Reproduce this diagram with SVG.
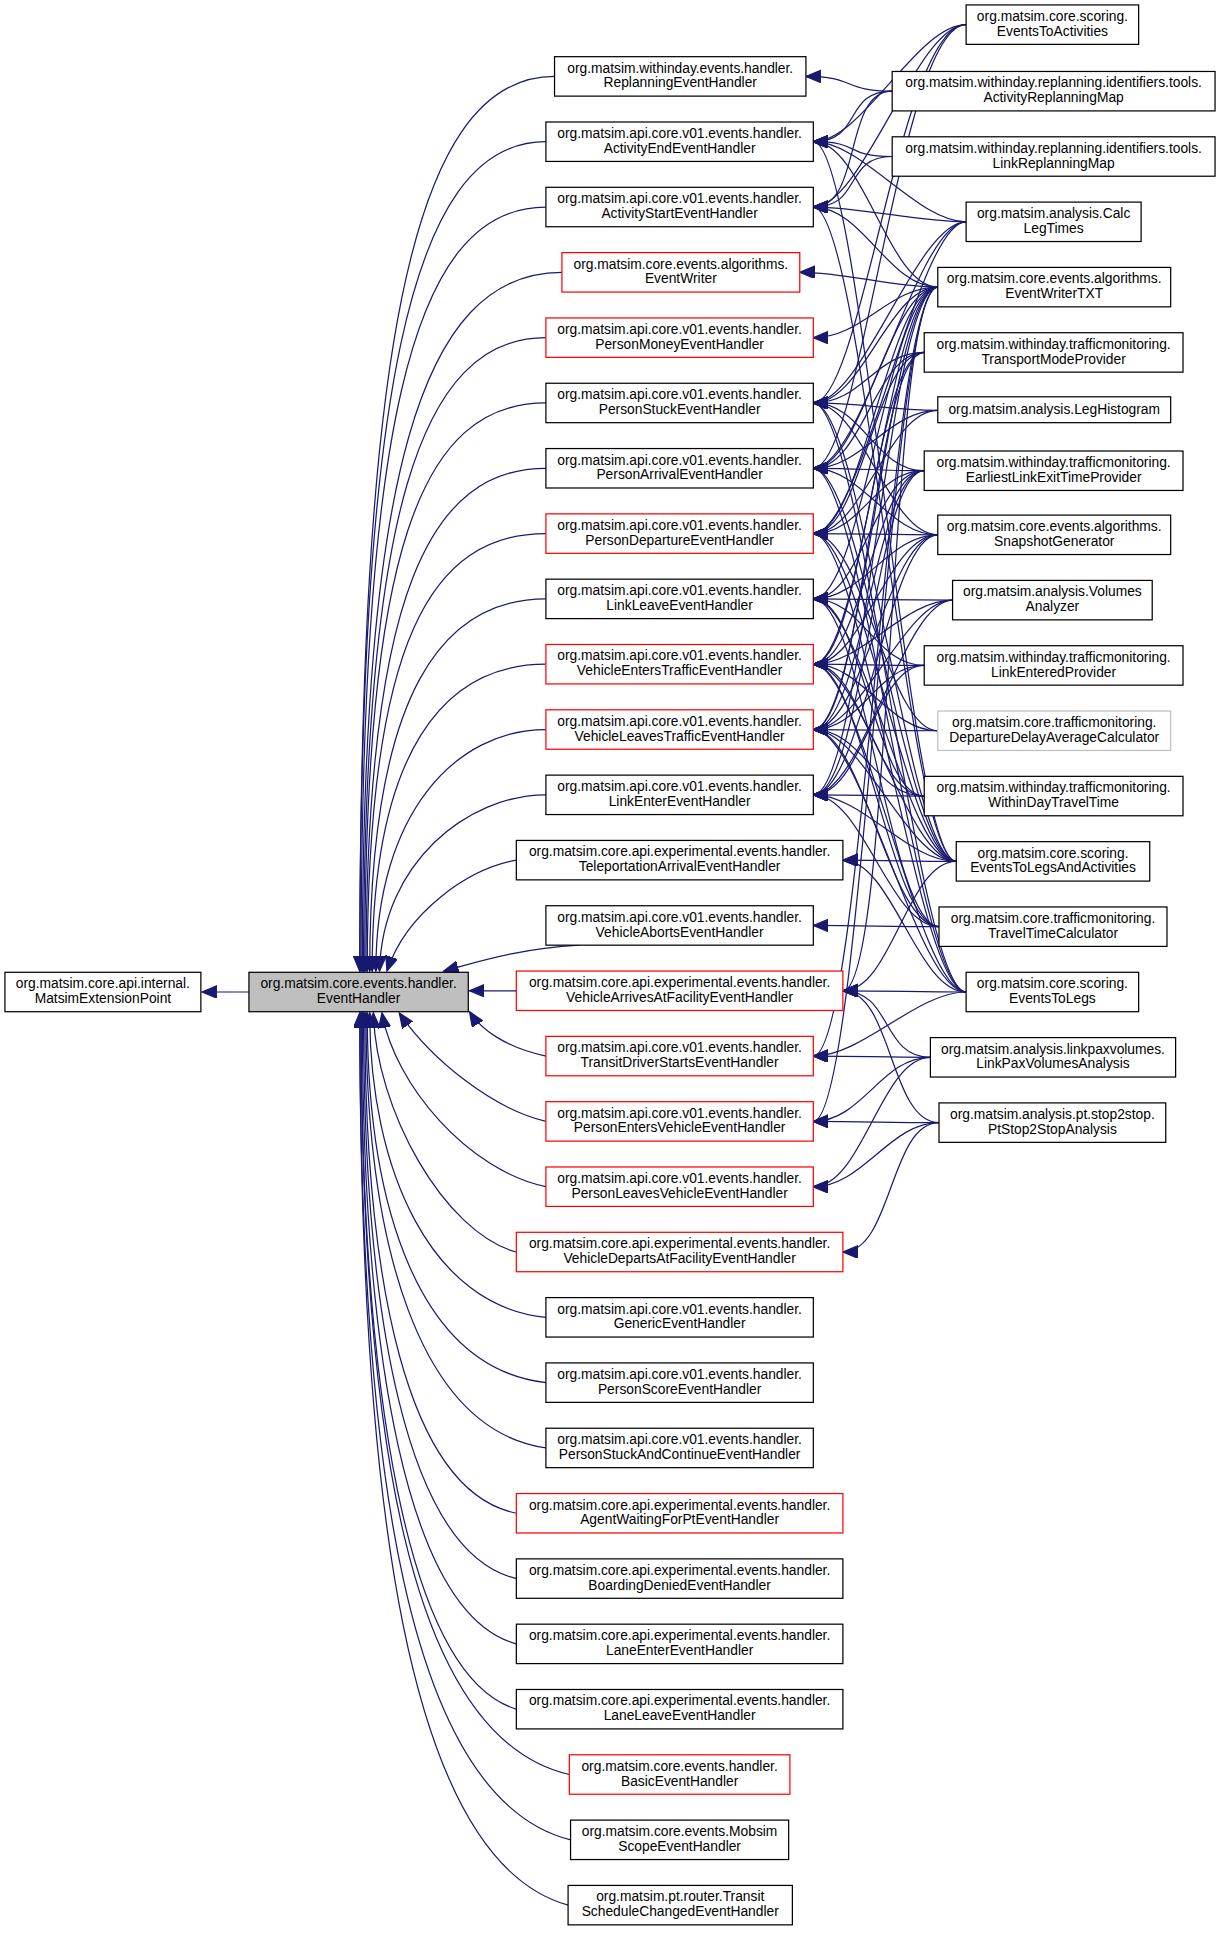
<svg xmlns="http://www.w3.org/2000/svg" width="1220" height="1933" viewBox="0 0 1220 1933">
<style>
.n rect{fill:#fff;stroke:#000;stroke-width:1}
.r rect{stroke:#f00}
.g rect{stroke:#bfbfbf}
text{font-family:"Liberation Sans",Arial,sans-serif;font-size:11.2px;text-anchor:middle;fill:#000}
.e path{fill:none;stroke:#191970;stroke-width:1;marker-end:url(#a)}
</style>
<defs><marker id="a" markerUnits="userSpaceOnUse" markerWidth="14" markerHeight="12" refX="12" refY="5" orient="auto"><path d="M0,0 L12,5 L0,10 z" fill="#191970" stroke="#191970"/></marker></defs>
<rect width="1220" height="1933" fill="#fff"/>
<g transform="scale(1.2323)">
<g id="edges" class="e">
<path d="M202,805 L164,805"/>
<path d="M450,62 C330,62 292,300 292,788"/>
<path d="M443,115 C330,115 292,330 292,788"/>
<path d="M443,168 C330,168 293,360 293,788"/>
<path d="M456,221 C340,221 294,390 294,788"/>
<path d="M443,274 C340,274 295,420 295,788"/>
<path d="M443,327 C340,327 296,450 296,788"/>
<path d="M443,380 C350,380 297,480 297,788"/>
<path d="M443,433 C350,433 298,520 298,788"/>
<path d="M443,486 C360,486 300,560 300,788"/>
<path d="M443,539 C360,539 302,610 302,788"/>
<path d="M443,592 C370,592 305,660 305,788"/>
<path d="M443,645 C380,645 310,700 308,788"/>
<path d="M419,698 C380,705 330,740 314,788"/>
<path d="M470,767 C420,770 390,780 360,788"/>
<path d="M419,804 L381,804"/>
<path d="M443,857 C410,850 390,835 381,821"/>
<path d="M443,910 C400,900 350,860 324,822"/>
<path d="M443,963 C380,950 320,880 310,822"/>
<path d="M419,1016 C360,1000 305,900 303,822"/>
<path d="M443,1069 C350,1060 300,950 300,822"/>
<path d="M443,1122 C340,1110 298,980 298,822"/>
<path d="M443,1175 C340,1160 297,1010 297,822"/>
<path d="M419,1228 C330,1210 296,1040 296,822"/>
<path d="M419,1281 C330,1260 295,1070 295,822"/>
<path d="M419,1334 C330,1310 294,1100 294,822"/>
<path d="M419,1387 C330,1360 293,1130 293,822"/>
<path d="M462,1440 C330,1410 293,1160 293,822"/>
<path d="M463,1493 C330,1460 292,1190 292,822"/>
<path d="M461,1546 C330,1510 292,1220 292,822"/>
<path d="M784,20 C744,20 700,115 660,115"/>
<path d="M784,20 C744,20 700,168 660,168"/>
<path d="M784,20 C730,20 700,327 660,327"/>
<path d="M784,20 C730,20 700,380 660,380"/>
<path d="M724,74 C684,74 694,62 654,62"/>
<path d="M724,74 C684,74 700,115 660,115"/>
<path d="M724,74 C684,74 700,168 660,168"/>
<path d="M724,127 C684,127 700,115 660,115"/>
<path d="M724,127 C684,127 700,168 660,168"/>
<path d="M784,180 C744,180 700,115 660,115"/>
<path d="M784,180 C744,180 700,168 660,168"/>
<path d="M784,180 C744,180 700,327 660,327"/>
<path d="M784,180 C744,180 700,380 660,380"/>
<path d="M784,180 C744,180 700,433 660,433"/>
<path d="M761,233 C721,233 689,221 649,221"/>
<path d="M761,233 C721,233 700,115 660,115"/>
<path d="M761,233 C721,233 700,168 660,168"/>
<path d="M761,233 C721,233 700,274 660,274"/>
<path d="M761,233 C721,233 700,327 660,327"/>
<path d="M761,233 C721,233 700,380 660,380"/>
<path d="M761,233 C721,233 700,433 660,433"/>
<path d="M761,233 C721,233 700,486 660,486"/>
<path d="M761,233 C721,233 700,539 660,539"/>
<path d="M761,233 C721,233 700,592 660,592"/>
<path d="M761,233 C721,233 700,645 660,645"/>
<path d="M761,233 C721,233 724,804 684,804"/>
<path d="M761,233 C721,233 700,857 660,857"/>
<path d="M761,233 C721,233 700,910 660,910"/>
<path d="M750,286 C710,286 700,327 660,327"/>
<path d="M750,286 C710,286 700,380 660,380"/>
<path d="M750,286 C710,286 700,433 660,433"/>
<path d="M750,286 C710,286 700,539 660,539"/>
<path d="M750,286 C710,286 700,592 660,592"/>
<path d="M761,333 C721,333 700,327 660,327"/>
<path d="M761,333 C721,333 700,380 660,380"/>
<path d="M761,333 C721,333 700,433 660,433"/>
<path d="M750,382 C710,382 700,327 660,327"/>
<path d="M750,382 C710,382 700,380 660,380"/>
<path d="M750,382 C710,382 700,433 660,433"/>
<path d="M750,382 C710,382 700,486 660,486"/>
<path d="M750,382 C710,382 700,539 660,539"/>
<path d="M750,382 C710,382 700,592 660,592"/>
<path d="M750,382 C710,382 700,645 660,645"/>
<path d="M761,434 C721,434 700,327 660,327"/>
<path d="M761,434 C721,434 700,380 660,380"/>
<path d="M761,434 C721,434 700,433 660,433"/>
<path d="M761,434 C721,434 700,486 660,486"/>
<path d="M761,434 C721,434 700,539 660,539"/>
<path d="M761,434 C721,434 700,592 660,592"/>
<path d="M761,434 C721,434 700,645 660,645"/>
<path d="M773,487 C733,487 700,486 660,486"/>
<path d="M773,487 C733,487 700,539 660,539"/>
<path d="M773,487 C733,487 700,592 660,592"/>
<path d="M773,487 C733,487 700,645 660,645"/>
<path d="M750,540 C710,540 700,486 660,486"/>
<path d="M750,540 C710,540 700,539 660,539"/>
<path d="M750,540 C710,540 700,592 660,592"/>
<path d="M750,540 C710,540 700,645 660,645"/>
<path d="M761,593 C721,593 700,433 660,433"/>
<path d="M761,593 C721,593 700,539 660,539"/>
<path d="M761,593 C721,593 700,592 660,592"/>
<path d="M750,646 C710,646 700,486 660,486"/>
<path d="M750,646 C710,646 700,539 660,539"/>
<path d="M750,646 C710,646 700,592 660,592"/>
<path d="M750,646 C710,646 700,645 660,645"/>
<path d="M776,699 C736,699 700,115 660,115"/>
<path d="M776,699 C736,699 700,168 660,168"/>
<path d="M776,699 C736,699 700,327 660,327"/>
<path d="M776,699 C736,699 700,380 660,380"/>
<path d="M776,699 C736,699 700,433 660,433"/>
<path d="M776,699 C736,699 700,486 660,486"/>
<path d="M776,699 C736,699 700,539 660,539"/>
<path d="M776,699 C736,699 700,592 660,592"/>
<path d="M776,699 C736,699 700,645 660,645"/>
<path d="M776,699 C736,699 724,698 684,698"/>
<path d="M776,699 C736,699 724,804 684,804"/>
<path d="M762,752 C722,752 700,486 660,486"/>
<path d="M762,752 C722,752 700,539 660,539"/>
<path d="M762,752 C722,752 700,592 660,592"/>
<path d="M762,752 C722,752 700,645 660,645"/>
<path d="M762,752 C722,752 700,751 660,751"/>
<path d="M784,805 C744,805 700,327 660,327"/>
<path d="M784,805 C744,805 700,380 660,380"/>
<path d="M784,805 C744,805 700,433 660,433"/>
<path d="M784,805 C744,805 700,539 660,539"/>
<path d="M784,805 C744,805 700,592 660,592"/>
<path d="M784,805 C744,805 724,698 684,698"/>
<path d="M784,805 C744,805 724,804 684,804"/>
<path d="M784,805 C744,805 700,857 660,857"/>
<path d="M755,858 C715,858 724,804 684,804"/>
<path d="M755,858 C715,858 700,857 660,857"/>
<path d="M755,858 C715,858 700,910 660,910"/>
<path d="M755,858 C715,858 700,963 660,963"/>
<path d="M762,911 C722,911 724,804 684,804"/>
<path d="M762,911 C722,911 700,910 660,910"/>
<path d="M762,911 C722,911 700,963 660,963"/>
<path d="M762,911 C722,911 724,1016 684,1016"/>
</g>
<g id="MatsimExtensionPoint" class="n"><rect x="4" y="789" width="159" height="32"/><text x="83.5" y="802">org.matsim.core.api.internal.</text><text x="83.5" y="814">MatsimExtensionPoint</text></g>
<g id="EventHandler" class="n"><rect x="202" y="789" width="178" height="32" style="fill:#bfbfbf"/><text x="291" y="802">org.matsim.core.events.handler.</text><text x="291" y="814">EventHandler</text></g>
<g id="m1" class="n"><rect x="450" y="46" width="204" height="32"/><text x="552" y="59">org.matsim.withinday.events.handler.</text><text x="552" y="71">ReplanningEventHandler</text></g>
<g id="m2" class="n"><rect x="443" y="99" width="217" height="32"/><text x="551.5" y="112">org.matsim.api.core.v01.events.handler.</text><text x="551.5" y="124">ActivityEndEventHandler</text></g>
<g id="m3" class="n"><rect x="443" y="152" width="217" height="32"/><text x="551.5" y="165">org.matsim.api.core.v01.events.handler.</text><text x="551.5" y="177">ActivityStartEventHandler</text></g>
<g id="m4" class="n r"><rect x="456" y="205" width="193" height="32"/><text x="552.5" y="218">org.matsim.core.events.algorithms.</text><text x="552.5" y="230">EventWriter</text></g>
<g id="m5" class="n r"><rect x="443" y="258" width="217" height="32"/><text x="551.5" y="271">org.matsim.api.core.v01.events.handler.</text><text x="551.5" y="283">PersonMoneyEventHandler</text></g>
<g id="m6" class="n"><rect x="443" y="311" width="217" height="32"/><text x="551.5" y="324">org.matsim.api.core.v01.events.handler.</text><text x="551.5" y="336">PersonStuckEventHandler</text></g>
<g id="m7" class="n"><rect x="443" y="364" width="217" height="32"/><text x="551.5" y="377">org.matsim.api.core.v01.events.handler.</text><text x="551.5" y="389">PersonArrivalEventHandler</text></g>
<g id="m8" class="n r"><rect x="443" y="417" width="217" height="32"/><text x="551.5" y="430">org.matsim.api.core.v01.events.handler.</text><text x="551.5" y="442">PersonDepartureEventHandler</text></g>
<g id="m9" class="n"><rect x="443" y="470" width="217" height="32"/><text x="551.5" y="483">org.matsim.api.core.v01.events.handler.</text><text x="551.5" y="495">LinkLeaveEventHandler</text></g>
<g id="m10" class="n r"><rect x="443" y="523" width="217" height="32"/><text x="551.5" y="536">org.matsim.api.core.v01.events.handler.</text><text x="551.5" y="548">VehicleEntersTrafficEventHandler</text></g>
<g id="m11" class="n r"><rect x="443" y="576" width="217" height="32"/><text x="551.5" y="589">org.matsim.api.core.v01.events.handler.</text><text x="551.5" y="601">VehicleLeavesTrafficEventHandler</text></g>
<g id="m12" class="n"><rect x="443" y="629" width="217" height="32"/><text x="551.5" y="642">org.matsim.api.core.v01.events.handler.</text><text x="551.5" y="654">LinkEnterEventHandler</text></g>
<g id="m13" class="n"><rect x="419" y="682" width="265" height="32"/><text x="551.5" y="695">org.matsim.core.api.experimental.events.handler.</text><text x="551.5" y="707">TeleportationArrivalEventHandler</text></g>
<g id="m14" class="n"><rect x="443" y="735" width="217" height="32"/><text x="551.5" y="748">org.matsim.api.core.v01.events.handler.</text><text x="551.5" y="760">VehicleAbortsEventHandler</text></g>
<g id="m15" class="n r"><rect x="419" y="788" width="265" height="32"/><text x="551.5" y="801">org.matsim.core.api.experimental.events.handler.</text><text x="551.5" y="813">VehicleArrivesAtFacilityEventHandler</text></g>
<g id="m16" class="n r"><rect x="443" y="841" width="217" height="32"/><text x="551.5" y="854">org.matsim.api.core.v01.events.handler.</text><text x="551.5" y="866">TransitDriverStartsEventHandler</text></g>
<g id="m17" class="n r"><rect x="443" y="894" width="217" height="32"/><text x="551.5" y="907">org.matsim.api.core.v01.events.handler.</text><text x="551.5" y="919">PersonEntersVehicleEventHandler</text></g>
<g id="m18" class="n r"><rect x="443" y="947" width="217" height="32"/><text x="551.5" y="960">org.matsim.api.core.v01.events.handler.</text><text x="551.5" y="972">PersonLeavesVehicleEventHandler</text></g>
<g id="m19" class="n r"><rect x="419" y="1000" width="265" height="32"/><text x="551.5" y="1013">org.matsim.core.api.experimental.events.handler.</text><text x="551.5" y="1025">VehicleDepartsAtFacilityEventHandler</text></g>
<g id="m20" class="n"><rect x="443" y="1053" width="217" height="32"/><text x="551.5" y="1066">org.matsim.api.core.v01.events.handler.</text><text x="551.5" y="1078">GenericEventHandler</text></g>
<g id="m21" class="n"><rect x="443" y="1106" width="217" height="32"/><text x="551.5" y="1119">org.matsim.api.core.v01.events.handler.</text><text x="551.5" y="1131">PersonScoreEventHandler</text></g>
<g id="m22" class="n"><rect x="443" y="1159" width="217" height="32"/><text x="551.5" y="1172">org.matsim.api.core.v01.events.handler.</text><text x="551.5" y="1184">PersonStuckAndContinueEventHandler</text></g>
<g id="m23" class="n r"><rect x="419" y="1212" width="265" height="32"/><text x="551.5" y="1225">org.matsim.core.api.experimental.events.handler.</text><text x="551.5" y="1237">AgentWaitingForPtEventHandler</text></g>
<g id="m24" class="n"><rect x="419" y="1265" width="265" height="32"/><text x="551.5" y="1278">org.matsim.core.api.experimental.events.handler.</text><text x="551.5" y="1290">BoardingDeniedEventHandler</text></g>
<g id="m25" class="n"><rect x="419" y="1318" width="265" height="32"/><text x="551.5" y="1331">org.matsim.core.api.experimental.events.handler.</text><text x="551.5" y="1343">LaneEnterEventHandler</text></g>
<g id="m26" class="n"><rect x="419" y="1371" width="265" height="32"/><text x="551.5" y="1384">org.matsim.core.api.experimental.events.handler.</text><text x="551.5" y="1396">LaneLeaveEventHandler</text></g>
<g id="m27" class="n r"><rect x="462" y="1424" width="179" height="32"/><text x="551.5" y="1437">org.matsim.core.events.handler.</text><text x="551.5" y="1449">BasicEventHandler</text></g>
<g id="m28" class="n"><rect x="463" y="1477" width="177" height="32"/><text x="551.5" y="1490">org.matsim.core.events.Mobsim</text><text x="551.5" y="1502">ScopeEventHandler</text></g>
<g id="m29" class="n"><rect x="461" y="1530" width="182" height="32"/><text x="552" y="1543">org.matsim.pt.router.Transit</text><text x="552" y="1555">ScheduleChangedEventHandler</text></g>
<g id="r1" class="n"><rect x="784" y="4" width="140" height="32"/><text x="854" y="17">org.matsim.core.scoring.</text><text x="854" y="29">EventsToActivities</text></g>
<g id="r2" class="n"><rect x="724" y="58" width="262" height="32"/><text x="855" y="71">org.matsim.withinday.replanning.identifiers.tools.</text><text x="855" y="83">ActivityReplanningMap</text></g>
<g id="r3" class="n"><rect x="724" y="111" width="262" height="32"/><text x="855" y="124">org.matsim.withinday.replanning.identifiers.tools.</text><text x="855" y="136">LinkReplanningMap</text></g>
<g id="r4" class="n"><rect x="784" y="164" width="142" height="32"/><text x="855" y="177">org.matsim.analysis.Calc</text><text x="855" y="189">LegTimes</text></g>
<g id="r5" class="n"><rect x="761" y="217" width="189" height="32"/><text x="855.5" y="230">org.matsim.core.events.algorithms.</text><text x="855.5" y="242">EventWriterTXT</text></g>
<g id="r6" class="n"><rect x="750" y="270" width="210" height="32"/><text x="855" y="283">org.matsim.withinday.trafficmonitoring.</text><text x="855" y="295">TransportModeProvider</text></g>
<g id="r7" class="n"><rect x="761" y="322" width="189" height="21"/><text x="855.5" y="336">org.matsim.analysis.LegHistogram</text></g>
<g id="r8" class="n"><rect x="750" y="366" width="210" height="32"/><text x="855" y="379">org.matsim.withinday.trafficmonitoring.</text><text x="855" y="391">EarliestLinkExitTimeProvider</text></g>
<g id="r9" class="n"><rect x="761" y="418" width="189" height="32"/><text x="855.5" y="431">org.matsim.core.events.algorithms.</text><text x="855.5" y="443">SnapshotGenerator</text></g>
<g id="r10" class="n"><rect x="773" y="471" width="162" height="32"/><text x="854" y="484">org.matsim.analysis.Volumes</text><text x="854" y="496">Analyzer</text></g>
<g id="r11" class="n"><rect x="750" y="524" width="210" height="32"/><text x="855" y="537">org.matsim.withinday.trafficmonitoring.</text><text x="855" y="549">LinkEnteredProvider</text></g>
<g id="r12" class="n g"><rect x="761" y="577" width="189" height="32"/><text x="855.5" y="590">org.matsim.core.trafficmonitoring.</text><text x="855.5" y="602">DepartureDelayAverageCalculator</text></g>
<g id="r13" class="n"><rect x="750" y="630" width="210" height="32"/><text x="855" y="643">org.matsim.withinday.trafficmonitoring.</text><text x="855" y="655">WithinDayTravelTime</text></g>
<g id="r14" class="n"><rect x="776" y="683" width="157" height="32"/><text x="854.5" y="696">org.matsim.core.scoring.</text><text x="854.5" y="708">EventsToLegsAndActivities</text></g>
<g id="r15" class="n"><rect x="762" y="736" width="185" height="32"/><text x="854.5" y="749">org.matsim.core.trafficmonitoring.</text><text x="854.5" y="761">TravelTimeCalculator</text></g>
<g id="r16" class="n"><rect x="784" y="789" width="140" height="32"/><text x="854" y="802">org.matsim.core.scoring.</text><text x="854" y="814">EventsToLegs</text></g>
<g id="r17" class="n"><rect x="755" y="842" width="199" height="32"/><text x="854.5" y="855">org.matsim.analysis.linkpaxvolumes.</text><text x="854.5" y="867">LinkPaxVolumesAnalysis</text></g>
<g id="r18" class="n"><rect x="762" y="895" width="184" height="32"/><text x="854" y="908">org.matsim.analysis.pt.stop2stop.</text><text x="854" y="920">PtStop2StopAnalysis</text></g>
</g>
</svg>
